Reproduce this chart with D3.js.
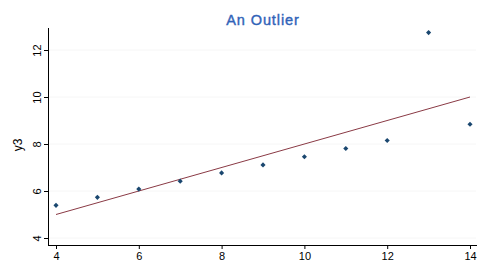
<!DOCTYPE html>
<html>
<head>
<meta charset="utf-8">
<script src="https://cdn.jsdelivr.net/npm/d3@7"></script>
<style>
  body { margin: 0; background: #fff; }
  text { font-family: "Liberation Sans", Arial, sans-serif; }
</style>
</head>
<body>
<svg class="chart" width="491" height="273"></svg>
<script>
// Anscombe set 3
const xs = [10, 8, 13, 9, 11, 14, 6, 4, 12, 7, 5]
const y3 = [7.46, 6.77, 12.74, 7.11, 7.81, 8.84, 6.08, 5.39, 8.15, 6.42, 5.73]
const fitLine = [[4, 5], [14, 10]]
const xTicks = [4, 6, 8, 10, 12, 14]
const yTicks = [4, 6, 8, 10, 12]

const svg = d3.select('.chart')

const x = d3.scaleLinear().domain([4, 14]).range([56, 470])
const y = d3.scaleLinear().domain([4, 12]).range([238, 50])

// faint grid
svg.append('g').selectAll('line')
  .data(yTicks)
  .enter()
  .append('line')
  .attr('x1', 48).attr('x2', 476)
  .attr('y1', d => y(d)).attr('y2', d => y(d))
  .attr('stroke', '#f6f6f6')
  .attr('stroke-width', 1)

// x axis
const xAxis = svg.append('g')
  .attr('transform', 'translate(0,245)')
  .call(d3.axisBottom(x).tickValues(xTicks).tickSize(4).tickPadding(3))
xAxis.select('.domain').attr('d', 'M48,0.5H477').attr('stroke', '#000')
xAxis.selectAll('text').attr('font-size', 11).attr('fill', '#000')

// y axis
const yAxis = svg.append('g')
  .attr('transform', 'translate(48,0)')
  .call(d3.axisLeft(y).tickValues(yTicks).tickSize(4).tickPadding(3))
yAxis.select('.domain').attr('d', 'M0.5,28V245').attr('stroke', '#000')
yAxis.selectAll('.tick text')
  .attr('font-size', 11)
  .attr('fill', '#000')
  .attr('text-anchor', 'middle')
  .attr('x', 0)
  .attr('dy', '0.35em')
  .attr('transform', 'translate(-11,0) rotate(-90)')

// y label
svg.append('text')
  .attr('transform', 'translate(22,145) rotate(-90)')
  .attr('text-anchor', 'middle')
  .attr('font-size', 12)
  .attr('fill', '#000')
  .text('y3')

// title
svg.append('text')
  .attr('x', 263)
  .attr('y', 25)
  .attr('text-anchor', 'middle')
  .style('font-size', '14.5px')
  .style('letter-spacing', '0.9px')
  .attr('fill', '#3163b8')
  .attr('stroke', '#3163b8')
  .attr('stroke-width', 0.4)
  .text('An Outlier')

// fitted line
svg.append('path')
  .datum(fitLine)
  .attr('d', d3.line().x(d => x(d[0])).y(d => y(d[1])))
  .attr('stroke', '#8a3a45')
  .attr('stroke-width', 1)
  .attr('fill', 'none')

// markers
svg.append('g').selectAll('path')
  .data(xs.map((d, i) => [d, y3[i]]))
  .enter()
  .append('path')
  .attr('d', d3.symbol().type(d3.symbolSquare).size(13))
  .attr('transform', d => 'translate(' + x(d[0]) + ',' + y(d[1]) + ') rotate(45)')
  .attr('fill', '#1a476f')
</script>
</body>
</html>
